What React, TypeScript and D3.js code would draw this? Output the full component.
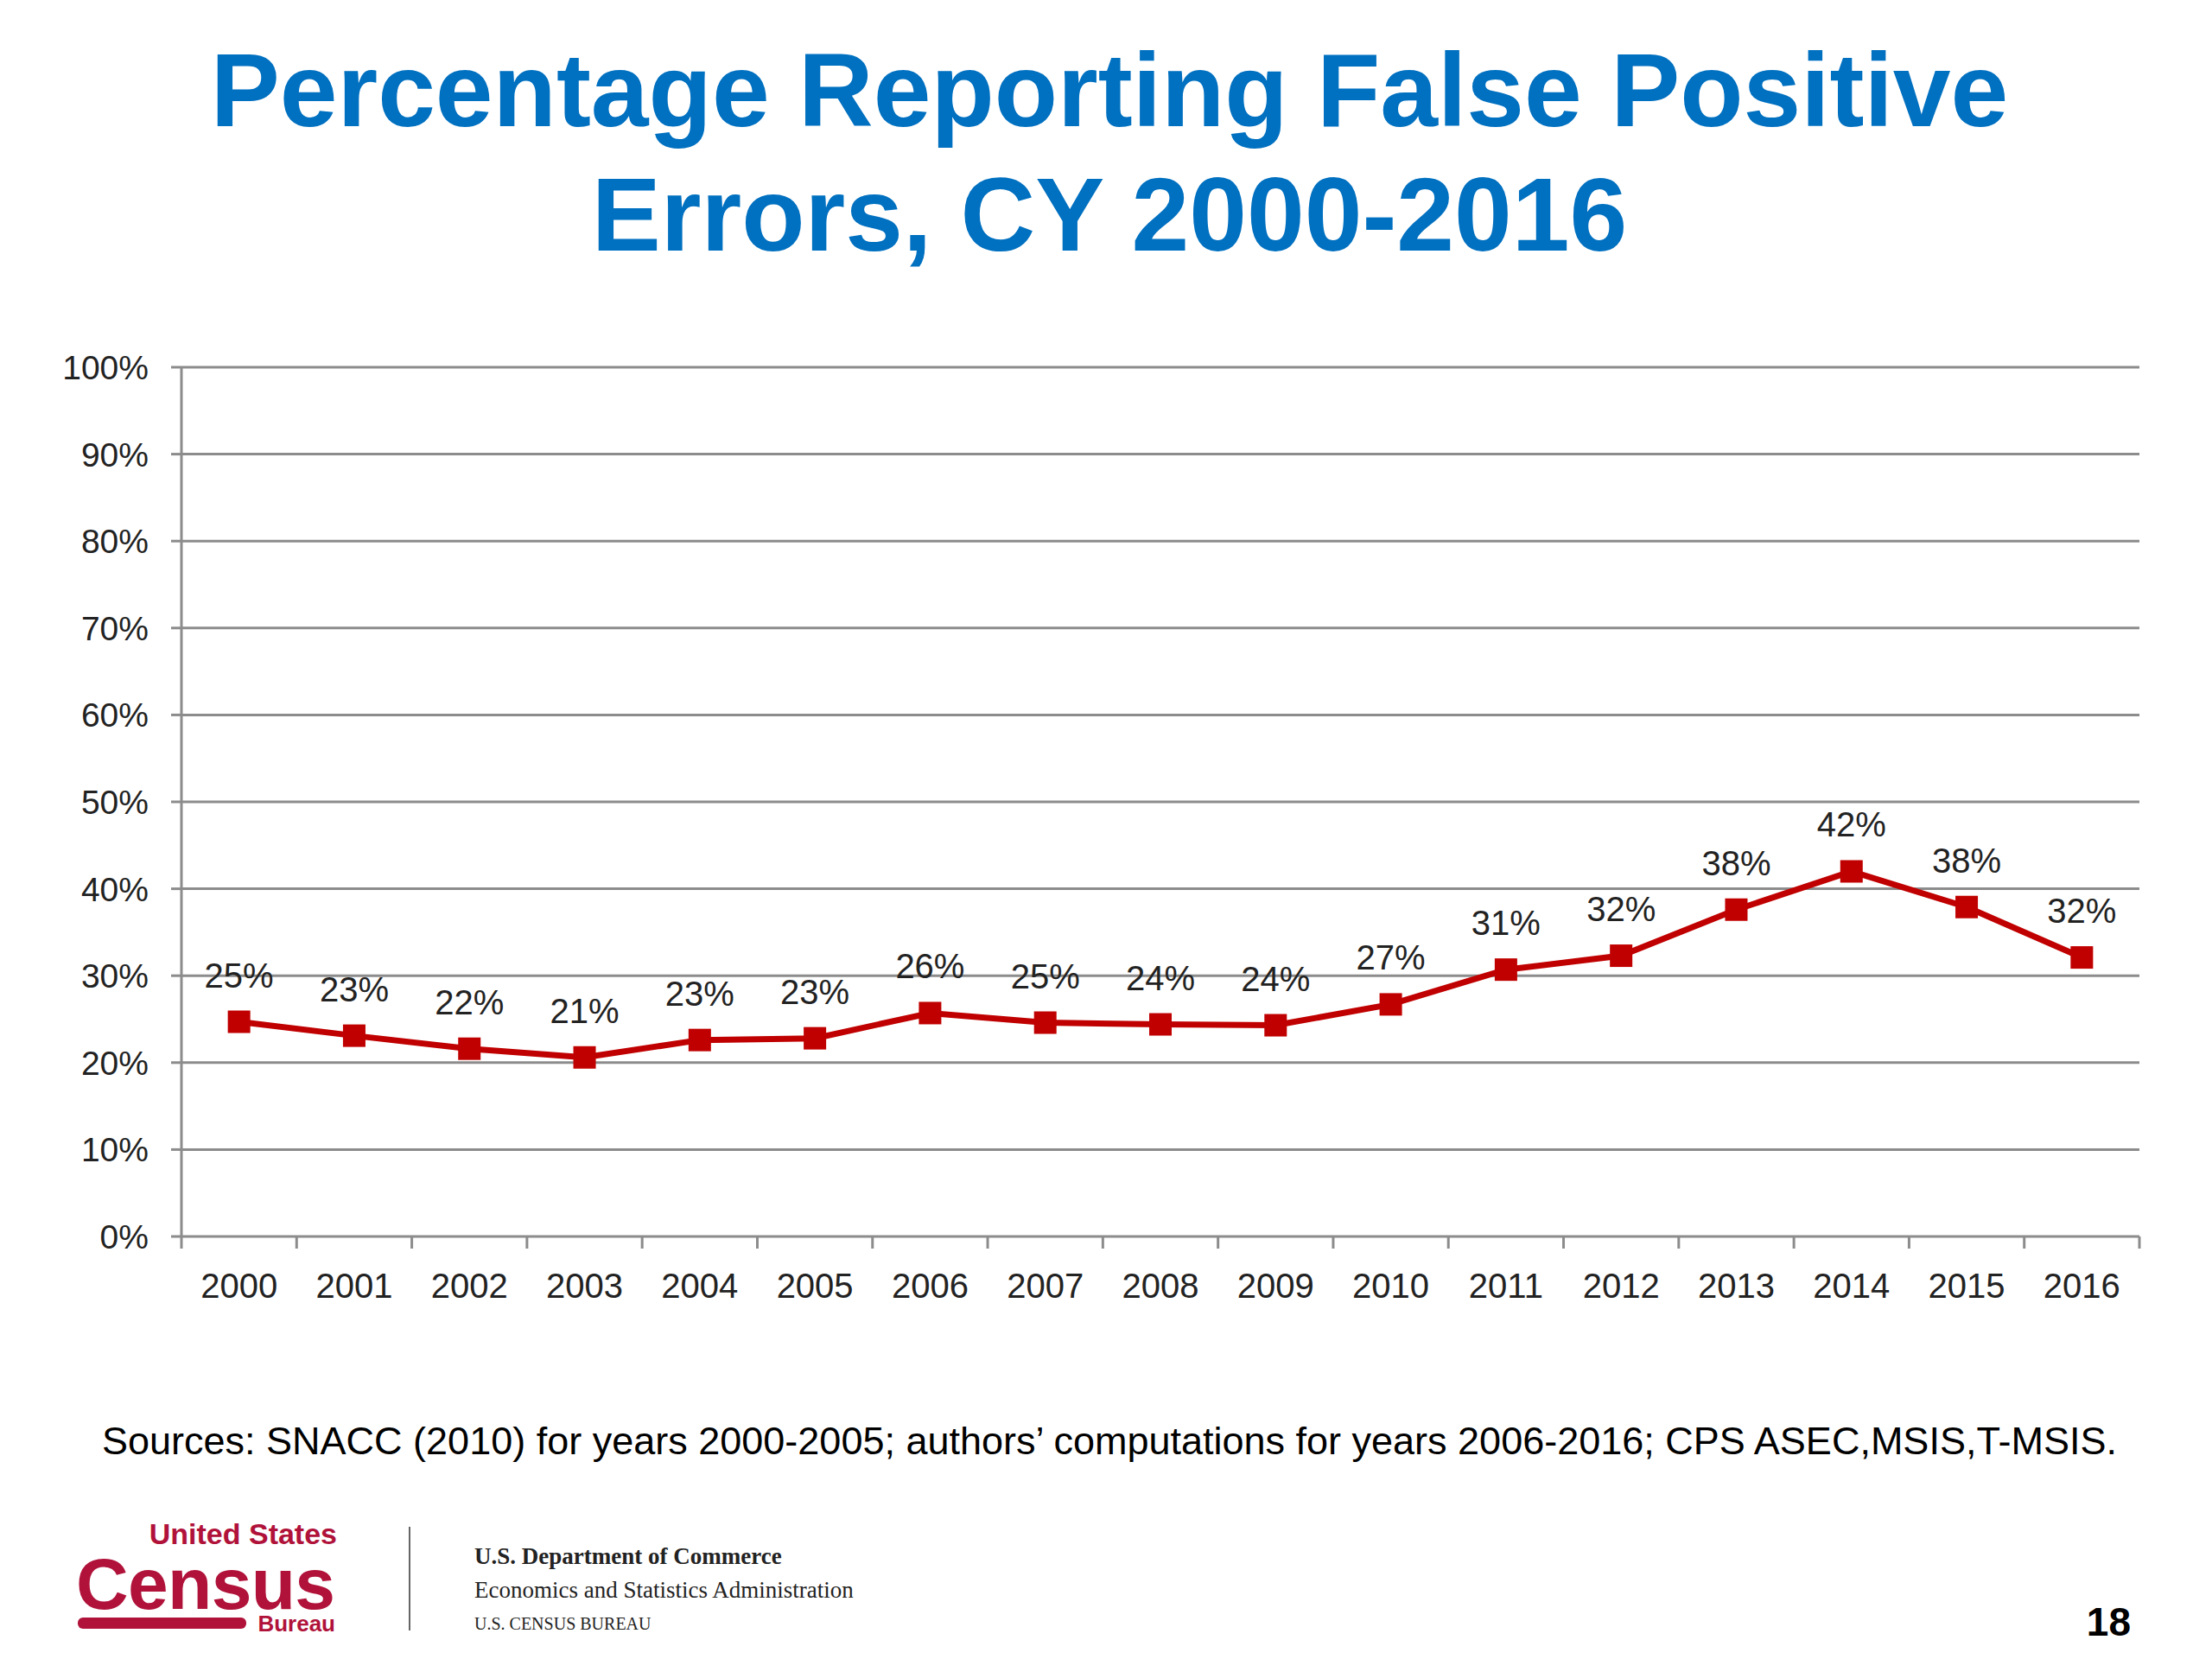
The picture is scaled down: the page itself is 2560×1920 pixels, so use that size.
import * as d3 from "d3";

const years = ["2000","2001","2002","2003","2004","2005","2006","2007","2008","2009","2010","2011","2012","2013","2014","2015","2016"];
const values = [24.7, 23.1, 21.6, 20.6, 22.6, 22.8, 25.7, 24.6, 24.4, 24.3, 26.7, 30.7, 32.3, 37.6, 42.0, 37.9, 32.1];
const labels = ["25%","23%","22%","21%","23%","23%","26%","25%","24%","24%","27%","31%","32%","38%","42%","38%","32%"];
const yTicks = [0, 10, 20, 30, 40, 50, 60, 70, 80, 90, 100];

export default function App() {
  const W = 2560, H = 1920;
  const left = 210, right = 2476, top = 425, bottom = 1431;
  const x = d3.scaleBand<string>().domain(years).range([left, right]);
  const y = d3.scaleLinear().domain([0, 100]).range([bottom, top]);
  const cx = (d: string) => (x(d) ?? 0) + x.bandwidth() / 2;
  const path = d3.line<number>().x((_, i) => cx(years[i])).y((v) => y(v))(values) ?? "";
  const sans = "Arial, 'Liberation Sans', sans-serif";
  const serif = "'Times New Roman', 'Liberation Serif', serif";
  const narrow = "'Liberation Sans Narrow', Arial, sans-serif";
  const boundaries = years.map((d) => x(d) ?? 0).concat([right]);

  return (
    <svg width={W} height={H} style={{ position: "absolute", left: 0, top: 0, background: "#fff" }} fontFamily={sans}>
      <rect width={W} height={H} fill="#fff" />
      <g fill="#0070C0" fontWeight="bold" fontSize={120} textAnchor="middle">
        <text x={1284} y={146}>Percentage Reporting False Positive</text>
        <text x={1284} y={290}>Errors, CY 2000-2016</text>
      </g>
      {yTicks.map((t) => (
        <g key={t}>
          <line x1={left} x2={right} y1={y(t)} y2={y(t)} stroke="#8c8c8c" strokeWidth={3} />
          <line x1={left - 12} x2={left} y1={y(t)} y2={y(t)} stroke="#8c8c8c" strokeWidth={3} />
          <text x={left - 38} y={y(t) + 14} textAnchor="end" fontSize={39} fill="#222">{t}%</text>
        </g>
      ))}
      <line x1={left} x2={left} y1={top} y2={bottom} stroke="#8c8c8c" strokeWidth={3} />
      {boundaries.map((b, i) => (
        <line key={i} x1={b} x2={b} y1={bottom} y2={bottom + 14} stroke="#8c8c8c" strokeWidth={3} />
      ))}
      {years.map((d) => (
        <text key={d} x={cx(d)} y={1502} textAnchor="middle" fontSize={40} fill="#222">{d}</text>
      ))}
      <path d={path} fill="none" stroke="#C00000" strokeWidth={7} />
      {values.map((v, i) => (
        <rect key={i} x={cx(years[i]) - 13} y={y(v) - 13} width={26} height={26} fill="#C00000" />
      ))}
      {values.map((v, i) => (
        <text key={"l" + i} x={cx(years[i])} y={y(v) - 40} textAnchor="middle" fontSize={40} fill="#222">{labels[i]}</text>
      ))}
      <text x={118} y={1683} fontSize={45} fill="#000">Sources: SNACC (2010) for years 2000-2005; authors’ computations for years 2006-2016; CPS ASEC,MSIS,T-MSIS.</text>
      <g fill="#B0123A" fontWeight="bold" fontFamily={narrow}>
        <text x={390} y={1787} fontSize={34} textAnchor="end">United States</text>
        <text x={88} y={1862} fontSize={84} textLength={300}>Census</text>
        <rect x={90} y={1872} width={195} height={13} rx={6} />
        <text x={388} y={1888} fontSize={26} textAnchor="end">Bureau</text>
      </g>
      <line x1={474} x2={474} y1={1767} y2={1887} stroke="#666" strokeWidth={2} />
      <g fontFamily={serif} fill="#222">
        <text x={549} y={1810} fontSize={27} fontWeight="bold">U.S. Department of Commerce</text>
        <text x={549} y={1849} fontSize={27}>Economics and Statistics Administration</text>
        <text x={549} y={1886} fontSize={20}>U.S. CENSUS BUREAU</text>
      </g>
      <text x={2466} y={1893} fontSize={46} fontWeight="bold" textAnchor="end" fill="#000">18</text>
    </svg>
  );
}
